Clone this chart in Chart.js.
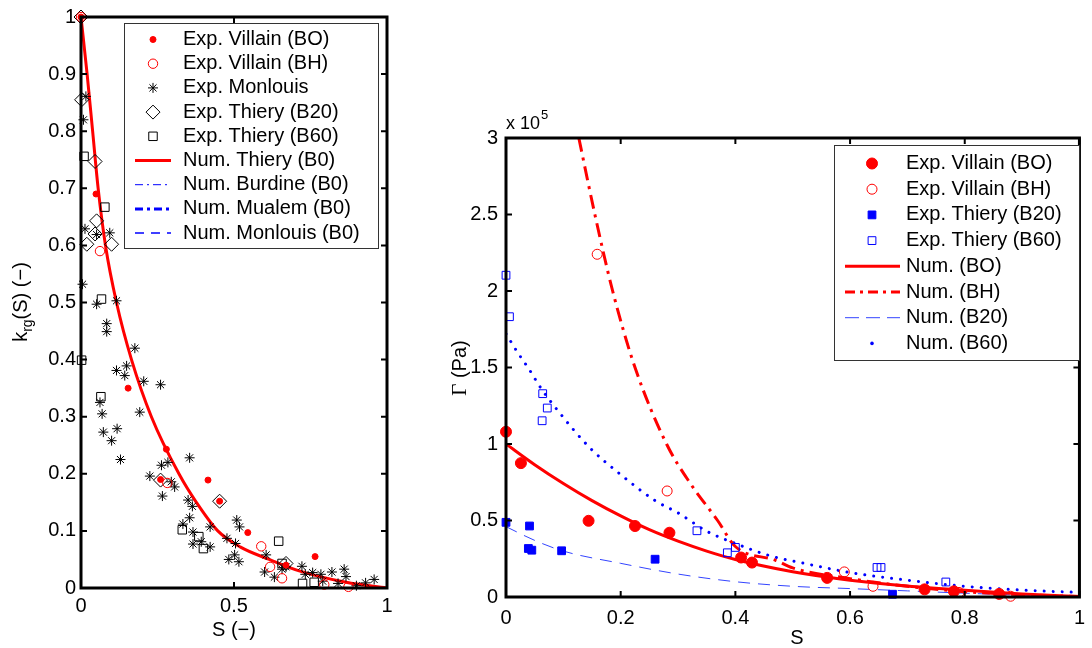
<!DOCTYPE html>
<html>
<head>
<meta charset="utf-8">
<script src="https://cdn.jsdelivr.net/npm/chart.js@4.4.0/dist/chart.umd.min.js"></script>
<style>
  html, body { margin: 0; padding: 0; background: #fff; overflow: hidden; width: 1092px; height: 648px; }
  #leftChart { position: absolute; left: 0; top: 0; }
  #rightChart { position: absolute; left: 428px; top: 0; }
</style>
</head>
<body>
<canvas id="leftChart" width="420" height="648"></canvas>
<canvas id="rightChart" width="666" height="648"></canvas>
<script>
// ---------- left panel : k_rg(S) ----------
const leftXTicks = [0, 0.5, 1];
const leftYTicks = [0, 0.1, 0.2, 0.3, 0.4, 0.5, 0.6, 0.7, 0.8, 0.9, 1];

const villainBO_S = [0, 0.049, 0.154, 0.26, 0.279, 0.415, 0.453, 0.545, 0.67, 0.765];
const villainBO_k = [1.0, 0.69, 0.35, 0.19, 0.243, 0.189, 0.152, 0.097, 0.04, 0.055];

const villainBH_S = [0, 0.062, 0.282, 0.589, 0.618, 0.657, 0.795, 0.874];
const villainBH_k = [1.0, 0.59, 0.184, 0.073, 0.037, 0.017, 0.006, 0.002];

const monlouis_S = [0.008, 0.016, 0.013, 0.051, 0.094, 0.005, 0.051, 0.116, 0.084, 0.084,
  0.176, 0.116, 0.149, 0.143, 0.205, 0.26, 0.062, 0.069, 0.192, 0.073,
  0.118, 0.1, 0.129, 0.355, 0.225, 0.263, 0.284, 0.295, 0.306, 0.266,
  0.35, 0.364, 0.355, 0.333, 0.422, 0.366, 0.366, 0.393, 0.422, 0.477,
  0.505, 0.509, 0.518, 0.483, 0.502, 0.516, 0.6, 0.605, 0.632, 0.657,
  0.67, 0.722, 0.733, 0.757, 0.784, 0.82, 0.86, 0.866, 0.93, 0.958,
  0.79, 0.84, 0.9];
const monlouis_k = [0.82, 0.861, 0.629, 0.619, 0.622, 0.532, 0.497, 0.503, 0.463, 0.449,
  0.42, 0.381, 0.389, 0.372, 0.362, 0.356, 0.325, 0.305, 0.308, 0.273,
  0.279, 0.258, 0.225, 0.228, 0.196, 0.215, 0.22, 0.186, 0.177, 0.161,
  0.154, 0.143, 0.123, 0.112, 0.107, 0.098, 0.077, 0.081, 0.072, 0.087,
  0.078, 0.119, 0.107, 0.05, 0.058, 0.046, 0.028, 0.058, 0.019, 0.033,
  0.037, 0.038, 0.024, 0.027, 0.024, 0.028, 0.033, 0.02, 0.009, 0.015,
  0.012, 0.008, 0.004];

const thieryB20_S = [0, 0.002, 0.046, 0.051, 0.046, 0.1, 0.019, 0.26, 0.453, 0.67];
const thieryB20_k = [1.0, 0.855, 0.747, 0.643, 0.62, 0.602, 0.602, 0.189, 0.152, 0.043];

const thieryB60_S = [0.01, 0.078, 0.067, 0.002, 0.065, 0.331, 0.385, 0.4, 0.646, 0.657, 0.724, 0.762];
const thieryB60_k = [0.756, 0.667, 0.506, 0.399, 0.335, 0.102, 0.09, 0.069, 0.082, 0.043, 0.008, 0.01];

const numThiery_S = [0, 0.02, 0.038, 0.056, 0.08, 0.116, 0.165, 0.23, 0.32, 0.377, 0.447, 0.52, 0.615, 0.713, 0.866, 1.0];
const numThiery_k = [1, 0.9, 0.8, 0.7, 0.6, 0.5, 0.4, 0.3, 0.2, 0.15, 0.1, 0.072, 0.05, 0.03, 0.01, 0];

// not visible inside the axes, only listed in the legend
const numBurdine_S = [], numBurdine_k = [];
const numMualem_S = [], numMualem_k = [];
const numMonlouis_S = [], numMonlouis_k = [];

// ---------- right panel : Gamma(S), values in 10^5 Pa ----------
const rightXTicks = [0, 0.2, 0.4, 0.6, 0.8, 1];
const rightYTicks = [0, 0.5, 1, 1.5, 2, 2.5, 3];

const gVillainBO_S = [0, 0.026, 0.144, 0.225, 0.285, 0.41, 0.429, 0.56, 0.73, 0.781, 0.86];
const gVillainBO_G = [1.08, 0.875, 0.498, 0.464, 0.42, 0.258, 0.225, 0.125, 0.05, 0.037, 0.02];

const gVillainBH_S = [0.159, 0.281, 0.59, 0.64, 0.79, 0.88];
const gVillainBH_G = [2.24, 0.693, 0.164, 0.07, 0.03, 0.005];

const gThieryB20_S = [0, 0.041, 0.039, 0.045, 0.097, 0.26, 0.674];
const gThieryB20_G = [0.488, 0.464, 0.317, 0.306, 0.302, 0.247, 0.018];

const gThieryB60_S = [0, 0.006, 0.064, 0.072, 0.063, 0.333, 0.386, 0.4, 0.647, 0.654, 0.767];
const gThieryB60_G = [2.103, 1.832, 1.329, 1.235, 1.152, 0.433, 0.289, 0.324, 0.193, 0.193, 0.098];

const gNumBO_S = [0, 0.05, 0.1, 0.15, 0.2, 0.25, 0.3, 0.35, 0.4, 0.5, 0.6, 0.7, 0.8, 0.9, 1];
const gNumBO_G = [1.0, 0.865, 0.742, 0.63, 0.53, 0.44, 0.365, 0.3, 0.245, 0.165, 0.11, 0.072, 0.044, 0.02, 0.003];

const gNumBH_S = [0.127, 0.155, 0.186, 0.225, 0.28, 0.32, 0.369, 0.4, 0.47, 0.5, 0.6, 0.7, 0.8, 0.9, 1];
const gNumBH_G = [3.0, 2.5, 2.0, 1.5, 1.0, 0.75, 0.5, 0.33, 0.24, 0.19, 0.12, 0.07, 0.035, 0.015, 0.003];

const gNumB20_S = [0, 0.05, 0.1, 0.2, 0.3, 0.4, 0.5, 0.6, 0.7, 0.8, 0.9, 1];
const gNumB20_G = [0.46, 0.37, 0.3, 0.22, 0.15, 0.1, 0.07, 0.055, 0.04, 0.025, 0.012, 0.004];

const gNumB60_S = [0, 0.02, 0.04, 0.06, 0.09, 0.145, 0.2, 0.26, 0.3, 0.35, 0.4, 0.46, 0.52, 0.6, 0.7, 0.8, 0.9, 1];
const gNumB60_G = [1.72, 1.6, 1.49, 1.37, 1.22, 0.98, 0.8, 0.63, 0.55, 0.43, 0.35, 0.27, 0.22, 0.16, 0.11, 0.07, 0.045, 0.03];

const FAMILY = '"Liberation Sans", Arial, sans-serif';
const RED = '#ff0000';
const BLUE = '#0000ff';

function pts(xs, ys) {
  return xs.map((x, i) => ({ x: x, y: ys[i] }));
}

function markers(label, xs, ys, style, r, fill, stroke, bw) {
  return {
    label, data: pts(xs, ys), showLine: false, clip: false,
    pointStyle: style, pointRadius: r, pointHoverRadius: r,
    pointBackgroundColor: fill, pointBorderColor: stroke, pointBorderWidth: bw,
    legendKind: 'point'
  };
}

function curve(label, xs, ys, color, width, dash, extra) {
  return Object.assign({
    label, data: pts(xs, ys), showLine: true, pointRadius: 0, pointHoverRadius: 0,
    borderColor: color, backgroundColor: color, borderWidth: width, borderDash: dash,
    cubicInterpolationMode: 'monotone', fill: false, legendKind: 'line'
  }, extra || {});
}

// marker used in the legends (same shapes as Chart.js point styles)
function drawMarker(ctx, style, x, y, r, fill, stroke, bw) {
  ctx.beginPath();
  if (style === 'circle') {
    ctx.arc(x, y, r, 0, Math.PI * 2);
  } else if (style === 'rect') {
    const s = r * Math.SQRT1_2;
    ctx.rect(x - s, y - s, 2 * s, 2 * s);
  } else if (style === 'rectRot') {
    ctx.moveTo(x, y - r); ctx.lineTo(x + r, y); ctx.lineTo(x, y + r); ctx.lineTo(x - r, y); ctx.closePath();
  } else if (style === 'star') {
    for (let k = 0; k < 4; k++) {
      const a = k * Math.PI / 4;
      ctx.moveTo(x - r * Math.cos(a), y - r * Math.sin(a));
      ctx.lineTo(x + r * Math.cos(a), y + r * Math.sin(a));
    }
  }
  if (style !== 'star' && fill && fill !== 'transparent') { ctx.fillStyle = fill; ctx.fill(); }
  ctx.strokeStyle = stroke; ctx.lineWidth = bw; ctx.stroke();
}

// box, inward ticks (MATLAB style) and legend inside the axes
function framePlugin(L) {
  return {
    id: 'frame',
    afterDraw(chart) {
      const ctx = chart.ctx, a = chart.chartArea;
      const xs = chart.scales.x, ys = chart.scales.y;
      ctx.save();
      ctx.strokeStyle = '#000';
      ctx.lineWidth = 2;
      ctx.beginPath();
      xs.ticks.forEach(t => {
        const px = xs.getPixelForValue(t.value);
        ctx.moveTo(px, a.bottom); ctx.lineTo(px, a.bottom - 6);
        ctx.moveTo(px, a.top); ctx.lineTo(px, a.top + 6);
      });
      ys.ticks.forEach(t => {
        const py = ys.getPixelForValue(t.value);
        ctx.moveTo(a.left, py); ctx.lineTo(a.left + 6, py);
        ctx.moveTo(a.right, py); ctx.lineTo(a.right - 6, py);
      });
      ctx.stroke();
      ctx.lineWidth = 3;
      ctx.strokeRect(a.left, a.top, a.right - a.left, a.bottom - a.top);

      // legend
      ctx.fillStyle = '#fff';
      ctx.fillRect(L.x, L.y, L.w, L.h);
      ctx.strokeStyle = '#333';
      ctx.lineWidth = 1;
      ctx.strokeRect(L.x + 0.5, L.y + 0.5, L.w, L.h);
      ctx.font = '20px ' + FAMILY;
      ctx.textBaseline = 'middle';
      ctx.textAlign = 'left';
      chart.data.datasets.forEach((ds, i) => {
        const y = L.row0 + i * L.rowH;
        if (ds.legendKind === 'line') {
          ctx.save();
          ctx.strokeStyle = ds.borderColor;
          ctx.lineWidth = ds.borderWidth;
          ctx.setLineDash(ds.legendDash || ds.borderDash || []);
          ctx.beginPath(); ctx.moveTo(L.x1, y); ctx.lineTo(L.x2, y); ctx.stroke();
          ctx.restore();
        } else if (ds.legendKind === 'dot') {
          ctx.fillStyle = ds.borderColor;
          ctx.beginPath(); ctx.arc(L.mx, y, 1.8, 0, Math.PI * 2); ctx.fill();
        } else {
          drawMarker(ctx, ds.pointStyle, L.mx, y, ds.legendRadius || ds.pointRadius,
            ds.pointBackgroundColor, ds.pointBorderColor, ds.pointBorderWidth);
        }
        ctx.fillStyle = '#000';
        ctx.fillText(ds.label, L.tx, y);
      });
      ctx.restore();
    }
  };
}

function axisTicks(arr, padding, font) {
  return {
    type: 'linear',
    grid: { display: false, drawTicks: false },
    border: { display: false },
    ticks: { padding: padding, color: '#000', font: { family: FAMILY, size: font }, maxRotation: 0, autoSkip: false,
      callback: v => String(v) },
    afterBuildTicks: s => { s.ticks = arr.map(v => ({ value: v })); }
  };
}

// ---------- left chart ----------
const leftX = Object.assign(axisTicks(leftXTicks, 6, 20), { min: 0, max: 1, afterFit: s => { s.height = 60; } });
const leftY = Object.assign(axisTicks(leftYTicks, 5, 20), { min: 0, max: 1, afterFit: s => { s.width = 81; } });

const leftTitles = {
  id: 'leftTitles',
  afterDraw(chart) {
    const ctx = chart.ctx;
    ctx.save();
    ctx.fillStyle = '#000';
    ctx.font = '20px ' + FAMILY;
    ctx.textAlign = 'center';
    ctx.textBaseline = 'middle';
    ctx.fillText('S (\u2212)', 234, 630);
    // k_rg(S) (-) rotated
    ctx.translate(20, 302);
    ctx.rotate(-Math.PI / 2);
    const parts = [['k', 20, 0], ['rg', 14, 5], ['(S) (\u2212)', 20, 0]];
    let total = 0;
    parts.forEach(p => { ctx.font = p[1] + 'px ' + FAMILY; total += ctx.measureText(p[0]).width; });
    let x = -total / 2;
    ctx.textAlign = 'left';
    ctx.textBaseline = 'alphabetic';
    parts.forEach(p => {
      ctx.font = p[1] + 'px ' + FAMILY;
      ctx.fillText(p[0], x, 7 + p[2]);
      x += ctx.measureText(p[0]).width;
    });
    ctx.restore();
  }
};

new Chart(document.getElementById('leftChart'), {
  type: 'scatter',
  data: {
    datasets: [
      markers('Exp. Villain (BO)', villainBO_S, villainBO_k, 'circle', 3, RED, RED, 1),
      markers('Exp. Villain (BH)', villainBH_S, villainBH_k, 'circle', 4.7, 'transparent', RED, 1),
      markers('Exp. Monlouis', monlouis_S, monlouis_k, 'star', 5, '#000', '#000', 1),
      markers('Exp. Thiery (B20)', thieryB20_S, thieryB20_k, 'rectRot', 7, 'transparent', '#000', 1),
      markers('Exp. Thiery (B60)', thieryB60_S, thieryB60_k, 'rect', 6, 'transparent', '#000', 1),
      curve('Num. Thiery (B0)', numThiery_S, numThiery_k, RED, 3, []),
      curve('Num. Burdine (B0)', numBurdine_S, numBurdine_k, BLUE, 1, [8, 4, 2, 4]),
      curve('Num. Mualem (B0)', numMualem_S, numMualem_k, BLUE, 3, [8, 4, 3, 4]),
      curve('Num. Monlouis (B0)', numMonlouis_S, numMonlouis_k, BLUE, 1.5, [9, 7])
    ]
  },
  options: {
    responsive: false,
    animation: false,
    events: [],
    layout: { padding: { left: 0, top: 16, right: 33, bottom: 0 } },
    plugins: { legend: { display: false }, tooltip: { enabled: false } },
    scales: { x: leftX, y: leftY }
  },
  plugins: [framePlugin({ x: 124, y: 23, w: 254, h: 225, row0: 39.5, rowH: 24.2, x1: 135, x2: 171, mx: 153, tx: 183 }), leftTitles]
});

// ---------- right chart ----------
const rightX = Object.assign(axisTicks(rightXTicks, 9, 20), { min: 0, max: 1, afterFit: s => { s.height = 51; } });
const rightY = Object.assign(axisTicks(rightYTicks, 8, 20), { min: 0, max: 3, afterFit: s => { s.width = 78; } });

const rightTitles = {
  id: 'rightTitles',
  afterDraw(chart) {
    const ctx = chart.ctx;
    ctx.save();
    ctx.fillStyle = '#000';
    ctx.font = '20px ' + FAMILY;
    ctx.textAlign = 'center';
    ctx.textBaseline = 'middle';
    ctx.fillText('S', 369, 638);
    // x 10^5 multiplier
    ctx.textAlign = 'left';
    ctx.textBaseline = 'alphabetic';
    ctx.font = '18px ' + FAMILY;
    ctx.fillText('x 10', 78, 129);
    const w = ctx.measureText('x 10').width;
    ctx.font = '13px ' + FAMILY;
    ctx.fillText('5', 78 + w + 1, 119);
    // Gamma (Pa) rotated
    ctx.translate(31, 368);
    ctx.rotate(-Math.PI / 2);
    const parts = [['\u0393', '21px "Liberation Serif", "Times New Roman", serif'], [' (Pa)', '20px ' + FAMILY]];
    let total = 0;
    parts.forEach(p => { ctx.font = p[1]; total += ctx.measureText(p[0]).width; });
    let x = -total / 2;
    parts.forEach(p => {
      ctx.font = p[1];
      ctx.fillText(p[0], x, 7);
      x += ctx.measureText(p[0]).width;
    });
    ctx.restore();
  }
};

new Chart(document.getElementById('rightChart'), {
  type: 'scatter',
  data: {
    datasets: [
      markers('Exp. Villain (BO)', gVillainBO_S, gVillainBO_G, 'circle', 5.5, RED, RED, 1),
      markers('Exp. Villain (BH)', gVillainBH_S, gVillainBH_G, 'circle', 5, 'transparent', RED, 1),
      markers('Exp. Thiery (B20)', gThieryB20_S, gThieryB20_G, 'rect', 5.5, BLUE, BLUE, 1),
      markers('Exp. Thiery (B60)', gThieryB60_S, gThieryB60_G, 'rect', 5.5, 'transparent', BLUE, 1),
      curve('Num. (BO)', gNumBO_S, gNumBO_G, RED, 3, []),
      curve('Num. (BH)', gNumBH_S, gNumBH_G, RED, 3, [14, 6, 3, 6], { legendDash: [10, 5, 3, 5] }),
      curve('Num. (B20)', gNumB20_S, gNumB20_G, '#3344ff', 1, [12, 8], { legendDash: [14, 7] }),
      curve('Num. (B60)', gNumB60_S, gNumB60_G, BLUE, 3, [0.01, 9], { borderCapStyle: 'round', legendKind: 'dot' })
    ]
  },
  options: {
    responsive: false,
    animation: false,
    events: [],
    layout: { padding: { left: 0, top: 138, right: 6, bottom: 0 } },
    plugins: { legend: { display: false }, tooltip: { enabled: false } },
    scales: { x: rightX, y: rightY }
  },
  plugins: [framePlugin({ x: 406, y: 145, w: 245, h: 215, row0: 163.5, rowH: 25.7, x1: 417, x2: 472, mx: 444, tx: 478 }), rightTitles]
});
</script>
</body>
</html>
